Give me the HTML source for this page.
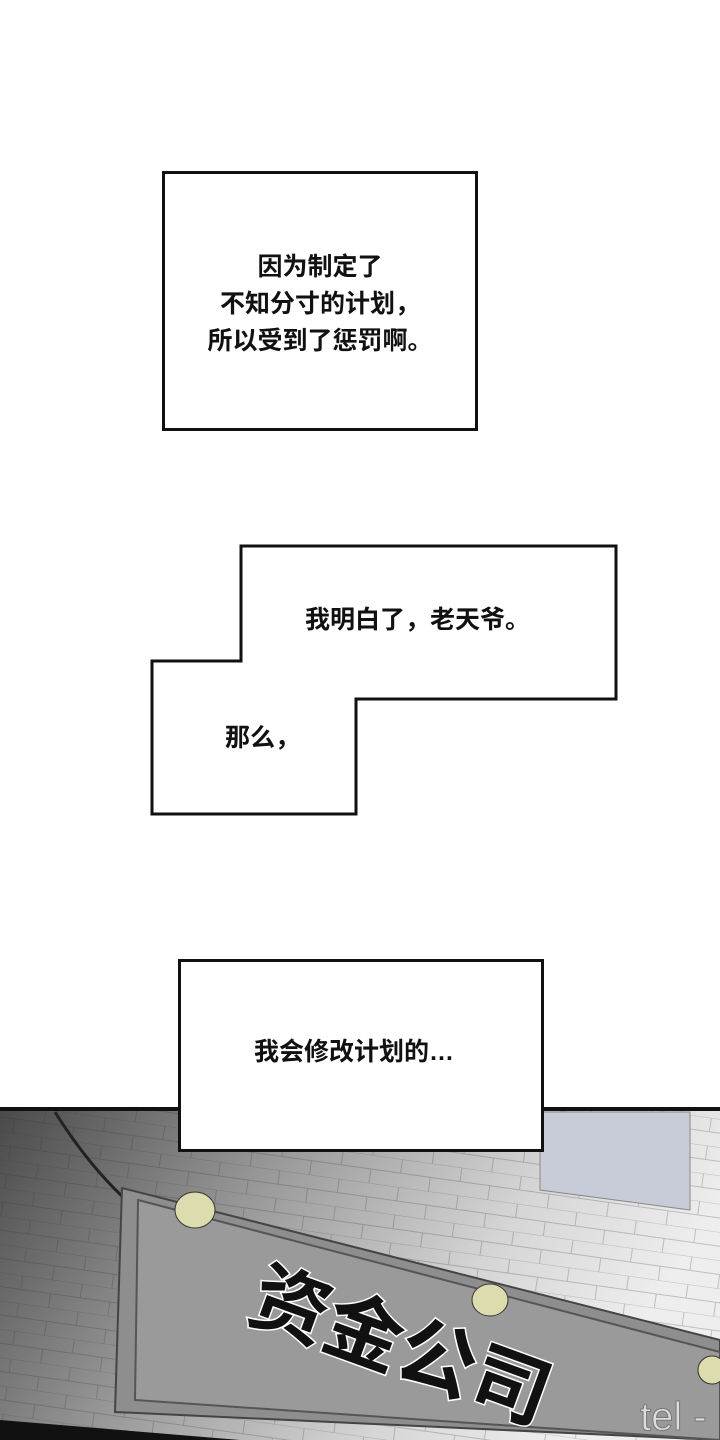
<!DOCTYPE html>
<html><head><meta charset="utf-8"><style>
body{margin:0;background:#fff;width:720px;height:1440px;overflow:hidden;position:relative;font-family:"Liberation Sans","Noto Sans CJK SC",sans-serif}
.box{position:absolute;border:3px solid #111;background:#fff;box-sizing:border-box}
.t{position:absolute;font-size:25px;font-weight:bold;color:#111;line-height:37px;text-align:center;white-space:nowrap}
</style></head><body>
<svg width="720" height="1440" style="position:absolute;left:0;top:0">
<defs>
<linearGradient id="bg" x1="0" y1="0" x2="1" y2="0.3">
<stop offset="0" stop-color="#4a4a4a"/><stop offset="0.4" stop-color="#9a9a9a"/><stop offset="0.75" stop-color="#d6d6d6"/><stop offset="1" stop-color="#eeeeee"/></linearGradient>
<pattern id="br" width="60" height="28" patternUnits="userSpaceOnUse" patternTransform="rotate(8)">
<path d="M0 0H60M0 14H60M20 0V14M50 14V28" stroke="#333" stroke-opacity="0.25" stroke-width="1" fill="none"/></pattern>
</defs>
<rect x="0" y="1110" width="720" height="330" fill="url(#bg)"/>
<rect x="0" y="1110" width="720" height="330" fill="url(#br)"/>
<rect x="0" y="1107" width="720" height="4" fill="#111"/>
<path d="M540 1112 L690 1112 L690 1210 L540 1190 Z" fill="#c8ccd8" stroke="#888"/>
<path d="M0 1420 L240 1440 L0 1440Z" fill="#111"/>
<path d="M55 1112 Q110 1200 180 1240" stroke="#222" stroke-width="3" fill="none"/>
<path d="M122 1188 L720 1340 L720 1440 L115 1412 Z" fill="#8e8e8e" stroke="#444" stroke-width="2"/>
<path d="M138 1200 L720 1352 L720 1440 L135 1400 Z" fill="#9a9a9a" stroke="#555" stroke-width="2"/>
<ellipse cx="195" cy="1210" rx="20" ry="18" fill="#dcdcae" stroke="#333"/>
<ellipse cx="490" cy="1300" rx="18" ry="16" fill="#dcdcae" stroke="#333"/>
<ellipse cx="712" cy="1370" rx="14" ry="14" fill="#dcdcae" stroke="#333"/>
<text x="0" y="0" transform="translate(245,1318) rotate(20)" font-family="'Noto Sans CJK SC',sans-serif" font-size="78" font-weight="bold" fill="#111" stroke="#fff" stroke-width="3" paint-order="stroke">资金公司</text>
<text x="640" y="1430" font-size="40" fill="#ddd" stroke="#777" font-family="'Liberation Sans',sans-serif">tel -</text>
</svg>
<div class="box" style="left:162px;top:171px;width:316px;height:260px"></div>
<div class="t" style="left:162px;top:249px;width:316px">因为制定了<br>不知分寸的计划，<br>所以受到了惩罚啊。</div>
<svg width="720" height="1440" style="position:absolute;left:0;top:0">
<path d="M241 546 H616 V699 H356 V814 H152 V661 H241 Z" fill="#fff" stroke="#111" stroke-width="3"/>
</svg>
<div class="t" style="left:305px;top:602px">我明白了，老天爷。</div>
<div class="t" style="left:225px;top:720px">那么，</div>
<div class="box" style="left:178px;top:959px;width:366px;height:193px"></div>
<div class="t" style="left:254px;top:1034px">我会修改计划的…</div>
</body></html>
